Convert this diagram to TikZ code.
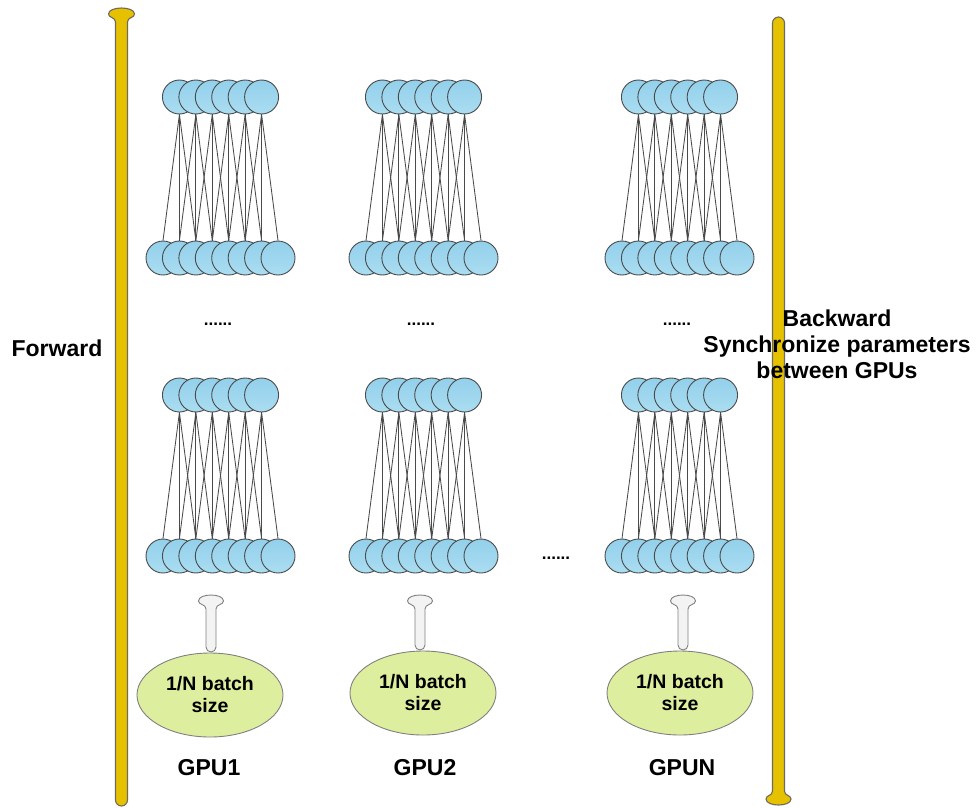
\documentclass[tikz,border=0pt]{standalone}
\usepackage{fontspec}
\setmainfont{Liberation Sans}
\usetikzlibrary{shapes.geometric}

\definecolor{baryellow}{HTML}{E5C100}
\definecolor{baredge}{HTML}{6E6A5E}
\definecolor{neurontop}{HTML}{93D0EB}
\definecolor{neuronbot}{HTML}{AADDF1}
\definecolor{neuronline}{HTML}{4A4A4A}
\definecolor{batchgreen}{HTML}{DDEF9E}
\definecolor{pipewhite}{HTML}{F3F3F3}

% flared block arrow: style, x, head y, tail y, half width, flare half width, dir (1 = head on top, -1 = head below)
\newcommand{\flarearrow}[7]{%
  \draw[#1] (#2-#5, #4-#7*#5)
    -- (#2-#5, #3+#7*14)
    .. controls (#2-#5, #3+#7*9) and (#2-#6, #3+#7*10) .. (#2-#6, #3+#7*6)
    .. controls (#2-#6, #3-#7*2) and (#2+#6, #3-#7*2) .. (#2+#6, #3+#7*6)
    .. controls (#2+#6, #3+#7*10) and (#2+#5, #3+#7*9) .. (#2+#5, #3+#7*14)
    -- (#2+#5, #4-#7*#5)
    .. controls (#2+#5, #4-#7*0.45*#5) and (#2+0.55*#5, #4) .. (#2, #4)
    .. controls (#2-0.55*#5, #4) and (#2-#5, #4-#7*0.45*#5) .. cycle;
}

\begin{document}
\begin{tikzpicture}[x=1pt, y=-1pt,
  neuron/.style={circle, draw=neuronline, line width=0.9pt, top color=neurontop,
    bottom color=neuronbot, minimum size=34pt, inner sep=0pt},
  link/.style={draw=neuronline, line width=0.85pt},
  bar/.style={fill=baryellow, draw=baredge, line width=1.1pt},
  pipe/.style={fill=pipewhite, draw=gray, line width=0.9pt},
  batch/.style={ellipse, draw=gray, fill=batchgreen, line width=0.9pt,
    minimum width=146pt, minimum height=84pt, align=center,
    font=\fontsize{19.5}{22}\selectfont\bfseries},
  gpuname/.style={font=\fontsize{23}{26}\selectfont\bfseries},
  dots/.style={font=\fontsize{17}{20}\selectfont\bfseries}]
  \useasboundingbox (0,0) rectangle (977,807);

  % --- forward / backward bars ---
  \flarearrow{bar}{121.5}{8}{806}{6}{13}{1}
  \flarearrow{bar}{778.5}{805}{17}{6}{12.5}{-1}

  % --- networks, two per GPU ---
  \foreach \c/\bx in {1/163, 2/366, 3/622} {
    \foreach \l/\ty/\by in {a/97/258, b/395/556} {
      \foreach \i in {0,...,7}
        \node[neuron] (n\c\l b\i) at ({\bx+16.43*\i}, \by) {};
      \foreach \i in {0,...,5}
        \node[neuron] (n\c\l t\i) at ({\bx+16.43*(\i+1)}, \ty) {};
      \foreach \i in {0,...,5}
        \foreach \j in {0,1,2} {
          \pgfmathtruncatemacro\k{\i+\j}
          \draw[link] (n\c\l t\i.south) -- (n\c\l b\k.north);
        }
    }
  }

  % --- data batches ---
  \node[batch] (batch1) at (210,695) {1/N batch\\size};
  \node[batch] (batch2) at (423,693) {1/N batch\\size};
  \node[batch] (batchN) at (680,693) {1/N batch\\size};
  \flarearrow{pipe}{211}{595}{652}{5}{12.5}{1}
  \flarearrow{pipe}{420}{595}{650}{5}{12.5}{1}
  \flarearrow{pipe}{683}{595}{650}{5}{12.5}{1}

  \node[gpuname] (gpu1) at (209,768) {GPU1};
  \node[gpuname] (gpu2) at (425,768) {GPU2};
  \node[gpuname] (gpuN) at (682,768) {GPUN};

  \node[dots] (dots1) at (218,324) {......};
  \node[dots] (dots2) at (421,324) {......};
  \node[dots] (dots3) at (677,324) {......};
  \node[dots] (dotsmid) at (556,558) {......};

  \node[gpuname] (fwd) at (57,348) {Forward};
  \node[gpuname, align=center] (bwd) at (837,344)
    {Backward\\Synchronize parameters\\between GPUs};
\end{tikzpicture}
\end{document}
